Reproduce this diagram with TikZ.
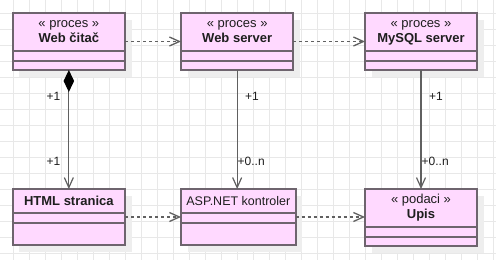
\documentclass[tikz,border=0pt]{standalone}
\usepackage{fontspec}
\setmainfont{Liberation Sans}
\usetikzlibrary{arrows.meta,shadows}
\definecolor{boxfill}{HTML}{FFD9FF}
\definecolor{boxline}{HTML}{6E646E}
\definecolor{linkgray}{HTML}{606060}
\definecolor{gridgray}{HTML}{E8E8E8}
\definecolor{shadowgray}{HTML}{EEEEEE}
\definecolor{textdark}{HTML}{1E1E1E}

\begin{document}
\begin{tikzpicture}[x=1pt,y=-1pt,
  umlbox/.style={draw=boxline, fill=boxfill, line width=1.7pt, inner sep=0pt,
    outer sep=0pt, anchor=north west,
    drop shadow={shadow xshift=6.5pt, shadow yshift=-6.5pt, fill=shadowgray, opacity=1}},
  divider/.style={draw=boxline, line width=1.7pt},
  stereo/.style={anchor=base, font=\fontsize{13}{15}\selectfont, text=textdark, inner sep=0pt},
  title/.style={anchor=base, font=\fontsize{13}{15}\selectfont\bfseries, text=textdark, inner sep=0pt},
  plain/.style={anchor=base, font=\fontsize{12.5}{15}\selectfont, text=textdark, inner sep=0pt},
  mult/.style={anchor=west, font=\fontsize{12}{14}\selectfont, text=textdark, inner sep=0pt},
  gridline/.style={draw=gridgray, line width=0.8pt},
  dep/.style={draw=linkgray, line width=1.3pt, dash pattern=on 3pt off 3pt,
    -{Straight Barb[length=10pt,width=9pt,line width=1.3pt]}},
  assoc/.style={draw=linkgray, line width=1.2pt,
    -{Straight Barb[length=10pt,width=9pt,line width=1.2pt]}},
]
% canvas and background grid
\useasboundingbox (0,0) rectangle (496,260);
\fill[white] (0,0) rectangle (496,260);
\foreach \x in {13,29,...,493} \draw[gridline] (\x,0) -- (\x,260);
\foreach \y in {13,29,...,253} \draw[gridline] (0,\y) -- (496,\y);

% class boxes
\node[umlbox, minimum width=112.3pt, minimum height=57pt] (web) at (12.7,13) {};
\node[umlbox, minimum width=112.3pt, minimum height=57pt] (wsrv) at (181,13) {};
\node[umlbox, minimum width=112pt, minimum height=57pt] (sql) at (365,13) {};
\node[umlbox, minimum width=112.3pt, minimum height=56pt] (html) at (12.7,189) {};
\node[umlbox, minimum width=114.7pt, minimum height=56pt] (asp) at (181,189) {};
\node[umlbox, minimum width=112pt, minimum height=57pt] (upis) at (365,189) {};

% compartment dividers
\foreach \b in {web,wsrv,sql,upis} {
  \draw[divider] ([yshift=-37.7pt]\b.north west) -- ([yshift=-37.7pt]\b.north east);
  \draw[divider] ([yshift=-47.7pt]\b.north west) -- ([yshift=-47.7pt]\b.north east);
}
\foreach \b in {html,asp} {
  \draw[divider] ([yshift=-24.3pt]\b.north west) -- ([yshift=-24.3pt]\b.north east);
  \draw[divider] ([yshift=-34.3pt]\b.north west) -- ([yshift=-34.3pt]\b.north east);
}

% box labels
\node[stereo] (webS) at ([yshift=-14.3pt]web.north) {« proces »};
\node[title] (webT) at ([yshift=-29.7pt]web.north) {Web čitač};
\node[stereo] (wsrvS) at ([yshift=-14.3pt]wsrv.north) {« proces »};
\node[title] (wsrvT) at ([yshift=-29.7pt]wsrv.north) {Web server};
\node[stereo] (sqlS) at ([yshift=-14.3pt]sql.north) {« proces »};
\node[title] (sqlT) at ([yshift=-29.7pt]sql.north) {MySQL server};
\node[title] (htmlT) at ([yshift=-16.7pt]html.north) {HTML stranica};
\node[plain] (aspT) at ([yshift=-16.3pt]asp.north) {ASP.NET kontroler};
\node[stereo] (upisS) at ([yshift=-14.3pt]upis.north) {« podaci »};
\node[title] (upisT) at ([yshift=-29.7pt]upis.north) {Upis};

% dependencies
\draw[dep] (web.east) -- (wsrv.west);
\draw[dep] (wsrv.east) -- (sql.west);
\draw[dep] (html.east) -- (asp.west);
\draw[dep] (asp.east) -- (asp.east -| upis.west);

% associations
\draw[assoc, {Diamond[length=22pt,width=10.5pt,color=black]}-{Straight Barb[length=10pt,width=9pt,line width=1.2pt]}]
  (web.south) -- (html.north);
\draw[assoc] (wsrv.south) -- (wsrv.south |- asp.north);
\draw[assoc] (sql.south) -- (upis.north);

% multiplicities
\node[mult] (m1) at (46.5,96) {+1};
\node[mult] (m2) at (46.5,161) {+1};
\node[mult] (m3) at (245,96) {+1};
\node[mult] (m4) at (237.5,161) {+0..n};
\node[mult] (m5) at (429,96) {+1};
\node[mult] (m6) at (421.5,161) {+0..n};
\end{tikzpicture}
\end{document}
